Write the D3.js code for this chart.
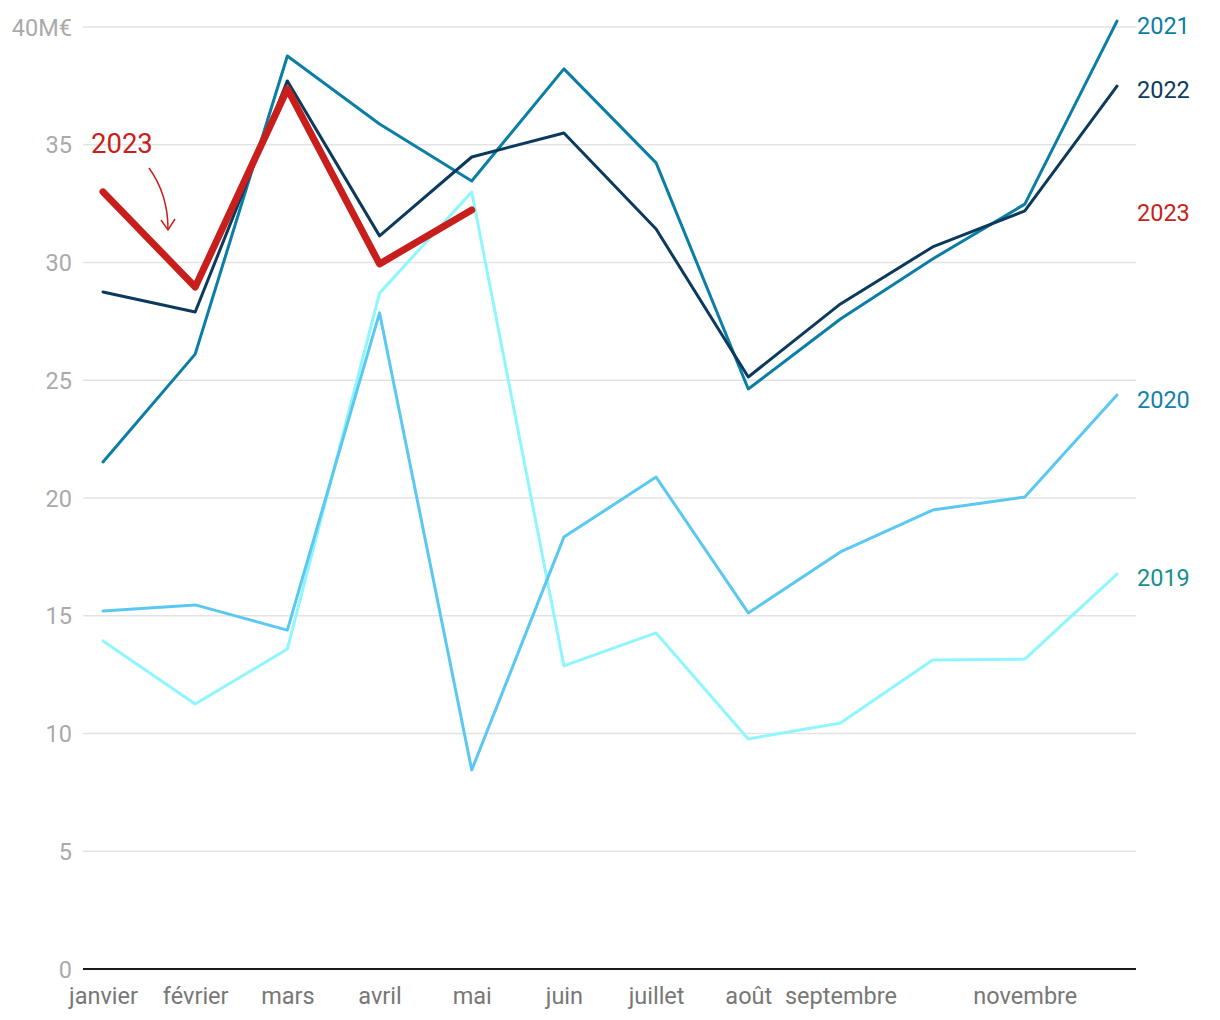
<!DOCTYPE html>
<html>
<head>
<meta charset="utf-8">
<script src="https://cdn.jsdelivr.net/npm/d3@7"></script>
<style>
  html, body { margin: 0; padding: 0; background: #fff; }
  svg { display: block; font-family: Roboto, "Noto Sans", sans-serif; }
</style>
</head>
<body>
<div id="chart"></div>
<script>
const months = ["janvier","février","mars","avril","mai","juin","juillet","août","septembre","octobre","novembre","décembre"];
const monthLabels = ["janvier","février","mars","avril","mai","juin","juillet","août","septembre","","novembre",""];
const yTicks = [0,5,10,15,20,25,30,35,40];
const yTickLabels = ["0","5","10","15","20","25","30","35","40M€"];

const v2019 = [13.93,11.25,13.59,28.7,32.99,12.87,14.27,9.77,10.45,13.12,13.16,16.77];
const v2020 = [15.2,15.46,14.39,27.86,8.45,18.34,20.89,15.12,17.71,19.49,20.04,24.37];
const v2021 = [21.53,26.11,38.77,35.88,33.46,38.22,34.23,24.63,27.6,30.15,32.48,40.25];
const v2022 = [28.75,27.9,37.71,31.13,34.48,35.5,31.42,25.14,28.24,30.66,32.19,37.49];
const v2023 = [33.0,28.96,37.37,29.94,32.23];

const seriesNames = ["2019","2020","2021","2022","2023"];
const seriesValues = [v2019, v2020, v2021, v2022, v2023];
const lineColors = ["#8ef6fc","#5bc8f2","#0b7ea6","#0c3a5c","#c81f1d"];
const labelColors = ["#16908c","#1381ac","#0b7ea6","#0c3a5c","#c81f1d"];
const lineWidths = [3,3,3,3,7];
const endLabelY = [578,400,26,90,213];

const W = 1220, H = 1020;
const svg = d3.select("#chart").append("svg").attr("width", W).attr("height", H);

const x = d3.scalePoint().domain(months).range([103, 1117]);
const y = d3.scaleLinear().domain([0, 40]).range([969, 27]);

// grid
const gridG = svg.append("g");
gridG.selectAll("line").data(yTicks.filter(t => t > 0)).join("line")
  .attr("x1", 83).attr("x2", 1136)
  .attr("y1", d => y(d)).attr("y2", d => y(d))
  .attr("stroke", "#e3e3e3").attr("stroke-width", 1.5);

// y axis labels
const yAxis = d3.axisLeft(y).tickValues(yTicks).tickSize(0).tickPadding(0)
  .tickFormat((d, i) => yTickLabels[i]);
const yG = svg.append("g").attr("transform", "translate(72,0)").call(yAxis);
yG.select(".domain").remove();
yG.selectAll("text").attr("font-size", 23.5).attr("fill", "#aaaaaa")
  .attr("font-family", "Roboto, sans-serif").attr("dy", "0.35em");

// x axis
const xAxis = d3.axisBottom(x).tickSize(0).tickPadding(0)
  .tickFormat((d, i) => monthLabels[i]);
const xG = svg.append("g").attr("transform", "translate(0,969)").call(xAxis);
xG.select(".domain").remove();
xG.selectAll("text").attr("font-size", 23.5).attr("fill", "#777777")
  .attr("font-family", "Roboto, sans-serif").attr("dy", "0").attr("y", 35);
svg.append("line").attr("x1", 83).attr("x2", 1136).attr("y1", 969).attr("y2", 969)
  .attr("stroke", "#1a1a1a").attr("stroke-width", 2);

// lines
const line = d3.line().x((d, i) => x(months[i])).y(d => y(d));
const linesG = svg.append("g");
seriesValues.forEach((vals, k) => {
  linesG.append("path").datum(vals)
    .attr("d", line)
    .attr("fill", "none")
    .attr("stroke", lineColors[k])
    .attr("stroke-width", lineWidths[k])
    .attr("stroke-linejoin", "round")
    .attr("stroke-linecap", "round");
});

// end labels
svg.append("g").selectAll("text").data(seriesNames).join("text")
  .attr("x", 1137).attr("y", (d, i) => endLabelY[i])
  .attr("dy", "0.35em")
  .attr("font-size", 23.5).attr("fill", (d, i) => labelColors[i])
  .text(d => d);

// annotation
svg.append("text").attr("x", 91).attr("y", 153).attr("font-size", 27.5)
  .attr("fill", "#c81f1d").text("2023");
svg.append("path").attr("d", "M149,168 C162,186 168,205 168,229")
  .attr("fill", "none").attr("stroke", "#c81f1d").attr("stroke-width", 1.5);
svg.append("path").attr("d", "M161,220 L168,230 L175,219")
  .attr("fill", "none").attr("stroke", "#c81f1d").attr("stroke-width", 1.5);
</script>
</body>
</html>
